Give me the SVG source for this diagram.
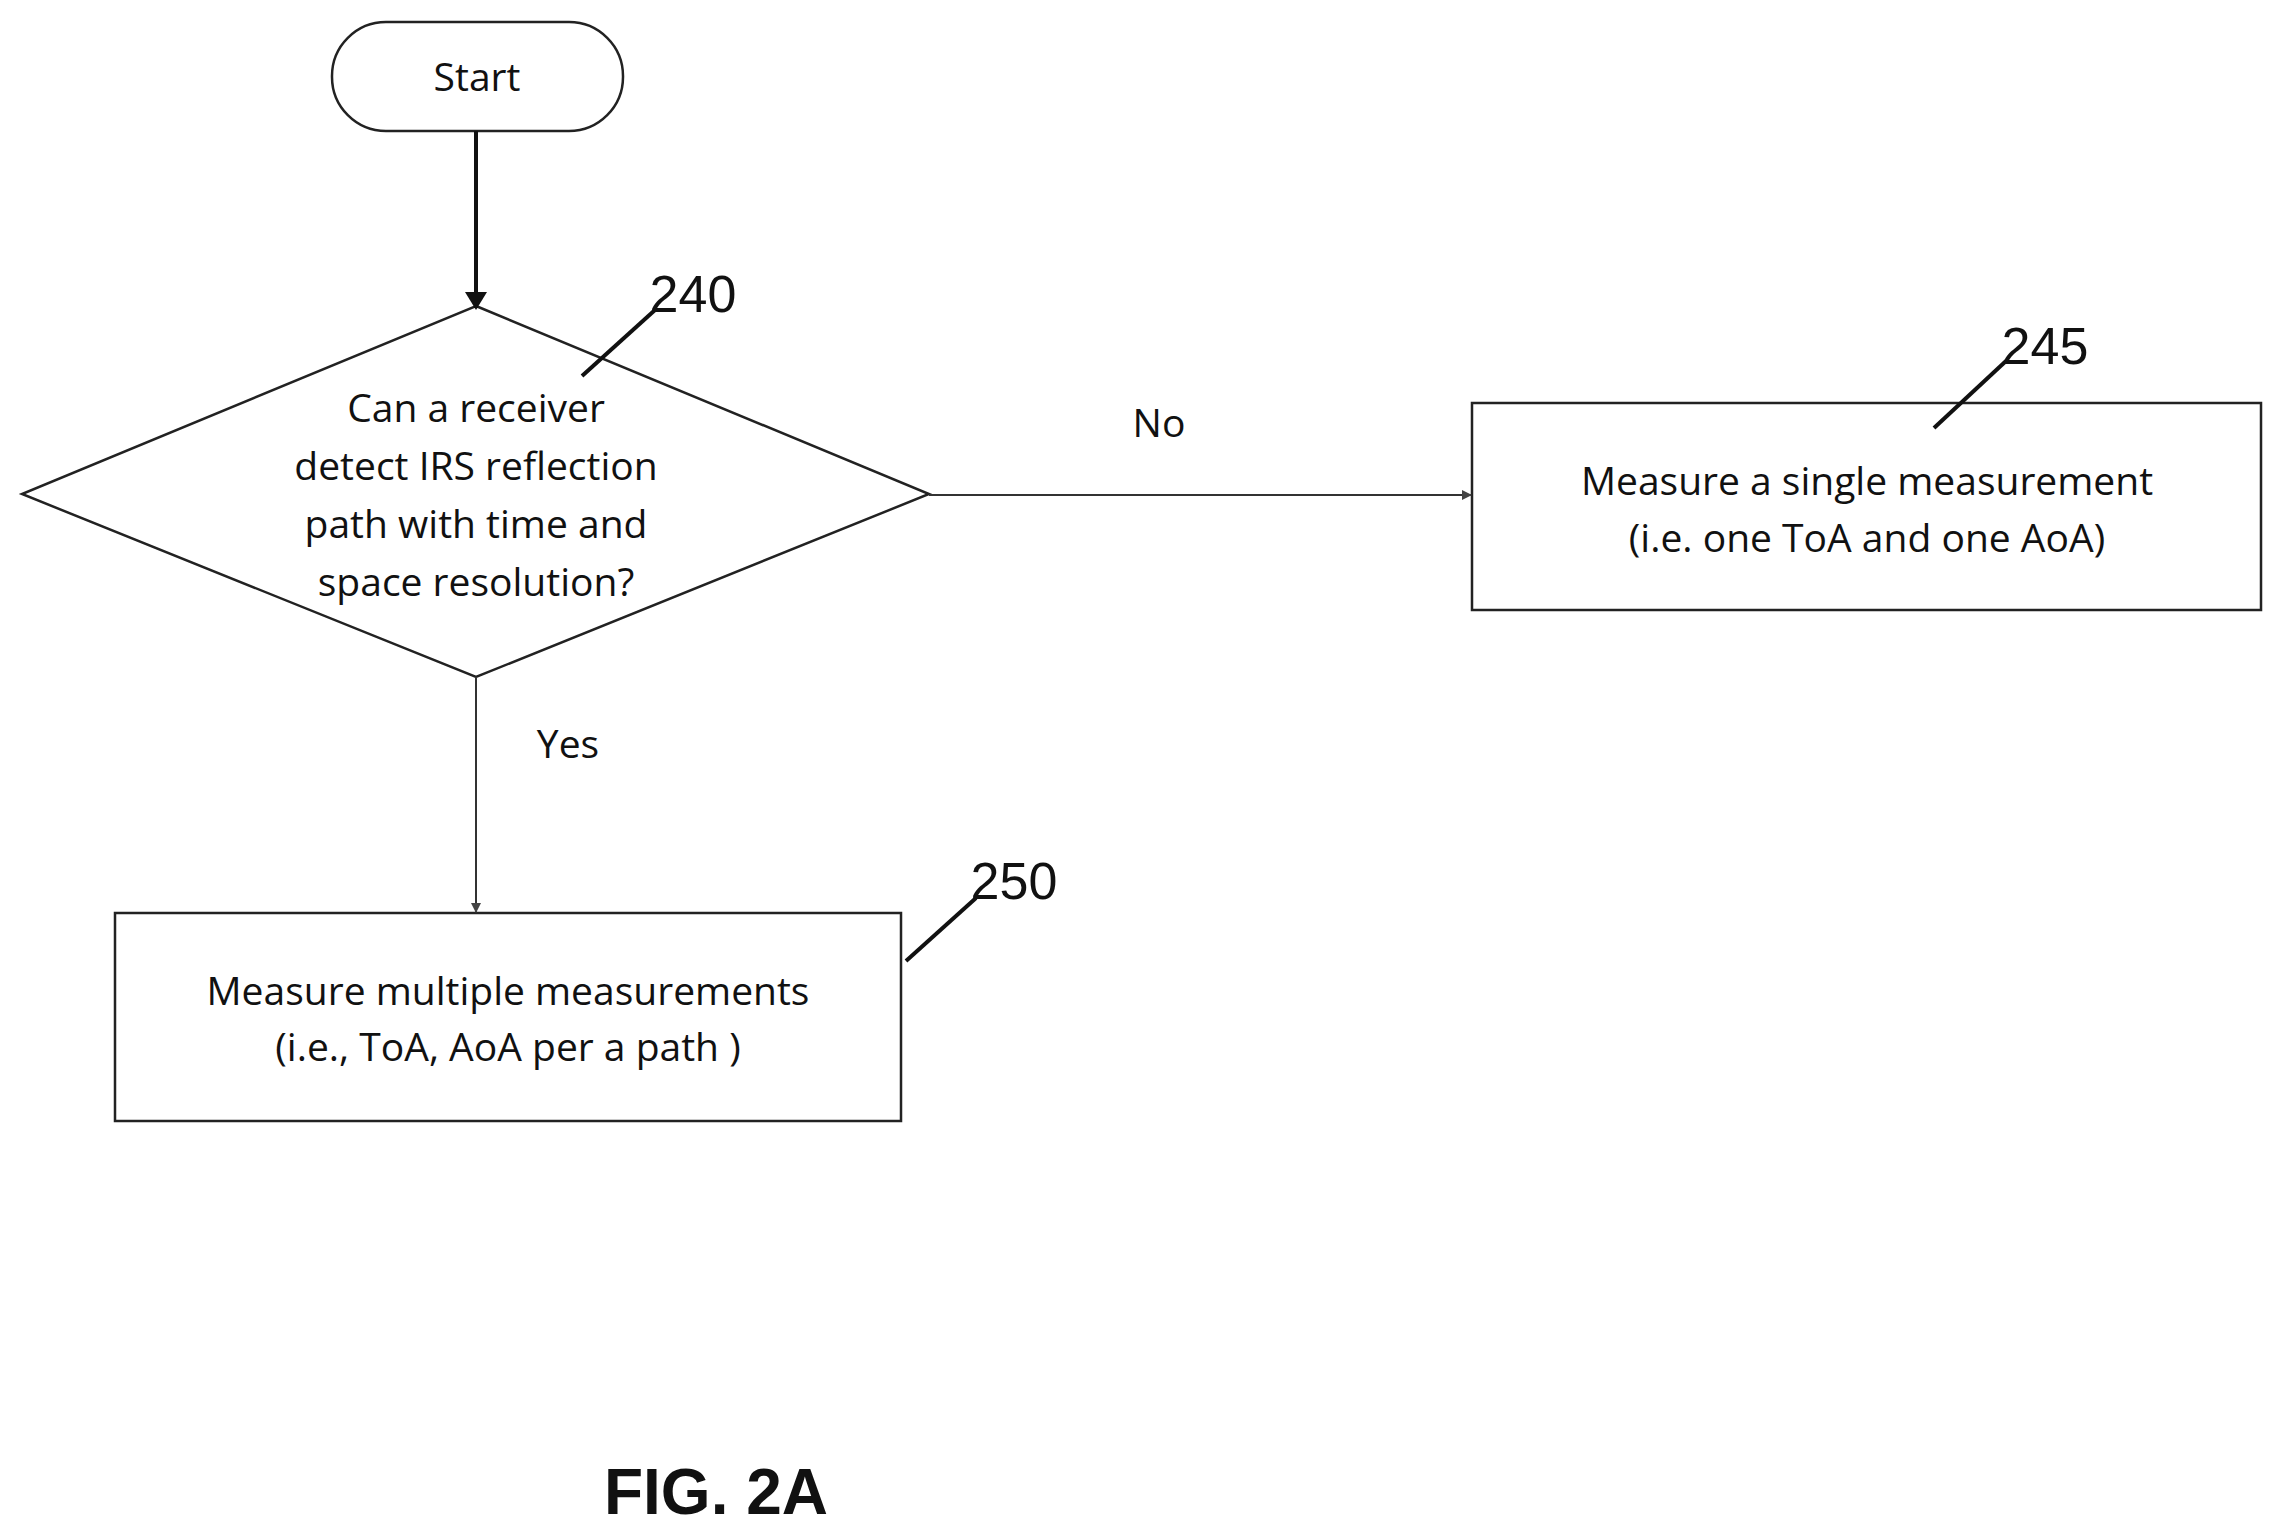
<svg xmlns="http://www.w3.org/2000/svg" width="2283" height="1537" viewBox="0 0 2283 1537">
<style>
.s{fill:#fff;stroke:#222;stroke-width:2.5}
.t{font-family:"Open Sans","Liberation Sans",sans-serif;font-size:39px;fill:#111;text-anchor:middle}
.n{font-family:"Liberation Sans",sans-serif;font-size:52px;fill:#111;text-anchor:middle}
.l{stroke:#111;stroke-width:4;fill:none}
.c{stroke:#333;stroke-width:2;fill:none}
</style>
<defs>
<marker id="a" markerWidth="10" markerHeight="10" refX="9" refY="5" orient="auto" markerUnits="userSpaceOnUse" viewBox="0 0 10 10"><path d="M0,0L10,5L0,10z" fill="#444"/></marker>
<marker id="b" markerWidth="18" markerHeight="22" refX="16" refY="11" orient="auto" markerUnits="userSpaceOnUse" viewBox="0 0 18 22"><path d="M0,0L18,11L0,22z" fill="#111"/></marker>
</defs>
<rect width="2283" height="1537" fill="#fff"/>
<g id="start"><rect x="332" y="22" width="291" height="109" rx="54" class="s" stroke-width="4"/><text x="477" y="91" class="t" font-size="44">Start</text></g>
<g id="n240"><polygon points="476,306 929,494 476,677 22,494" class="s"/>
<text class="t"><tspan x="476" y="422">Can a receiver</tspan><tspan x="476" y="480">detect IRS reflection</tspan><tspan x="476" y="538">path with time and</tspan><tspan x="476" y="596">space resolution?</tspan></text>
<text x="693" y="312" class="n">240</text><line x1="582" y1="376" x2="655" y2="310" class="l"/></g>
<g id="n245"><rect x="1472" y="403" width="789" height="207" class="s"/>
<text class="t"><tspan x="1867" y="495">Measure a single measurement</tspan><tspan x="1867" y="552">(i.e. one ToA and one AoA)</tspan></text>
<text x="2045" y="364" class="n">245</text><line x1="1934" y1="428" x2="2006" y2="361" class="l"/></g>
<g id="n250"><rect x="115" y="913" width="786" height="208" class="s"/>
<text class="t"><tspan x="508" y="1005">Measure multiple measurements</tspan><tspan x="508" y="1061">(i.e., ToA, AoA per a path )</tspan></text>
<text x="1014" y="899" class="n">250</text><line x1="906" y1="961" x2="976" y2="898" class="l"/></g>
<g id="connectors">
<line x1="476" y1="131" x2="476" y2="308" stroke="#111" stroke-width="4" marker-end="url(#b)"/>
<line x1="929" y1="495" x2="1471" y2="495" class="c" marker-end="url(#a)"/>
<text x="1159" y="437" class="t">No</text>
<line x1="476" y1="677" x2="476" y2="912" class="c" marker-end="url(#a)"/>
<text x="568" y="758" class="t">Yes</text>
</g>
<text x="716" y="1514" font-family="Liberation Sans,sans-serif" font-weight="bold" font-size="64" text-anchor="middle" fill="#111">FIG. 2A</text>
</svg>
